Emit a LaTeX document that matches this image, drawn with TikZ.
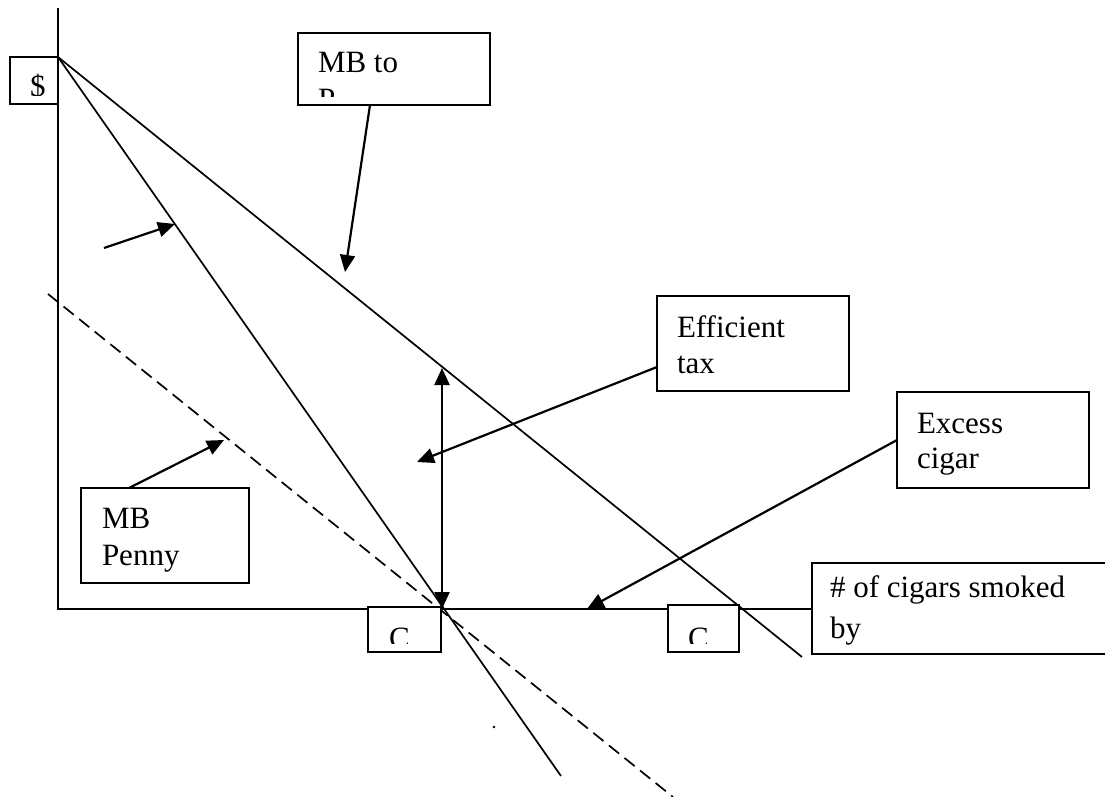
\documentclass[tikz,border=0pt]{standalone}
\usepackage{fontspec}
\setmainfont{Liberation Serif}
\usetikzlibrary{arrows.meta}
\begin{document}
\begin{tikzpicture}[x=1pt,y=-1pt, line width=1.7pt,
  box/.style={draw, fill=white, line width=2pt, rectangle, inner sep=0pt, outer sep=0pt, anchor=north west},
  lbl/.style={anchor=base west, inner sep=0pt, outer sep=0pt, font=\fontsize{31}{37}\selectfont},
  arr/.style={line width=2.2pt, -{Triangle[length=17pt,width=15pt]}},
  darr/.style={line width=2.2pt, {Triangle[length=17pt,width=15pt]}-{Triangle[length=17pt,width=15pt]}},
  curve/.style={line width=1.7pt},
  dashcurve/.style={line width=1.7pt, dash pattern=on 13pt off 7pt}
]
\useasboundingbox (0,0) rectangle (1105,797);

% axes
\coordinate (ytop) at (58,8);
\coordinate (orig) at (58,609);
\coordinate (xend) at (812,609);
\draw[curve] (ytop) -- (orig) -- (xend);

% demand / benefit lines
\coordinate (apex) at (58,57);
\coordinate (steepend) at (561,776);
\coordinate (mbpend) at (802,657);
\coordinate (dashstart) at (48,294);
\coordinate (dashend) at (673,797);
\draw[curve] (apex) -- (steepend);
\draw[curve] (apex) -- (mbpend);
\draw[dashcurve] (dashstart) -- (dashend);

% small dot
\fill (494,727) circle (1.3pt);

% boxes
\node[box, minimum width=48pt, minimum height=47pt] (dollar) at (10,57) {};
\node[box, minimum width=192pt, minimum height=72pt] (mbp) at (298,33) {};
\node[box, minimum width=192pt, minimum height=95pt] (eff) at (657,296) {};
\node[box, minimum width=192pt, minimum height=96pt] (exc) at (897,392) {};
\node[box, minimum width=168pt, minimum height=95pt] (penny) at (81,488) {};
\node[box, minimum width=73pt, minimum height=45pt] (c1) at (368,607) {};
\node[box, minimum width=71pt, minimum height=47pt] (c2) at (668,605) {};
\node[box, minimum width=300pt, minimum height=91pt] (num) at (812,563) {};

% texts (clipped like text boxes)
\begin{scope}
  \clip (12,59) rectangle (56,96);
  \node[lbl] (tdollar) at (30,97) {\$};
\end{scope}
\begin{scope}
  \clip (300,35) rectangle (488,97);
  \node[lbl] (tmbp1) at (318,73) {MB to};
  \node[lbl] (tmbp2) at (318,110) {P};
\end{scope}
\node[lbl] (teff1) at (677,337) {Efficient};
\node[lbl] (teff2) at (677,373) {tax};
\node[lbl] (texc1) at (917,433) {Excess};
\node[lbl] (texc2) at (917,468) {cigar};
\node[lbl] (tpen1) at (102,528) {MB};
\node[lbl] (tpen2) at (102,565) {Penny};
\begin{scope}
  \clip (370,609) rectangle (439,643);
  \node[lbl] (tc1) at (389,648) {C};
\end{scope}
\begin{scope}
  \clip (670,607) rectangle (737,643);
  \node[lbl] (tc2) at (688,648) {C};
\end{scope}
\node[lbl] (tnum1) at (830,597) {\# of cigars smoked};
\node[lbl] (tnum2) at (830,638) {by};

% arrows
\coordinate (a1s) at (370,105);
\coordinate (a1e) at (345,272);
\draw[arr] (a1s) -- (a1e);
\coordinate (a2s) at (104,248);
\coordinate (a2e) at (175,224);
\draw[arr] (a2s) -- (a2e);
\coordinate (a3s) at (657,367);
\coordinate (a3e) at (417,462);
\draw[arr] (a3s) -- (a3e);
\coordinate (a4s) at (897,440);
\coordinate (a4e) at (587,609);
\draw[arr] (a4s) -- (a4e);
\coordinate (a5s) at (129,488);
\coordinate (a5e) at (224,440);
\draw[arr] (a5s) -- (a5e);
\coordinate (dtop) at (442,368);
\coordinate (dbot) at (442,609);
\draw[darr] (dtop) -- (dbot);
\end{tikzpicture}
\end{document}
